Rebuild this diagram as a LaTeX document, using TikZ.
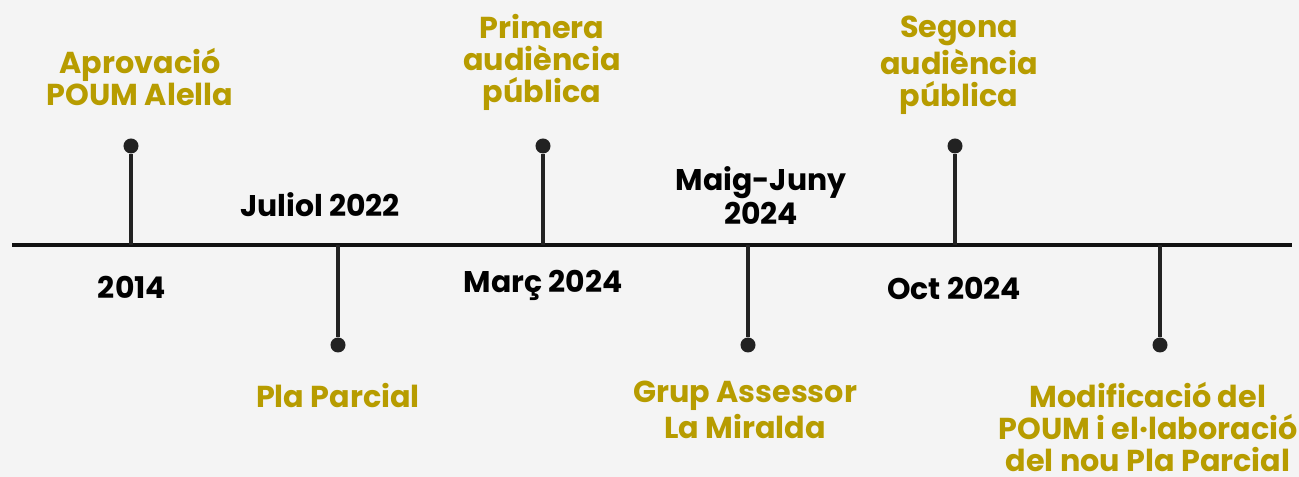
\documentclass[tikz,border=0pt]{standalone}
\usepackage{fontspec}
\setmainfont{Poppins}
\usepackage{xcolor}
\definecolor{pagebg}{RGB}{244, 244, 244}
\definecolor{eventgold}{RGB}{183, 156, 0}
\definecolor{axisdark}{RGB}{17, 17, 17}
\definecolor{stemdark}{RGB}{34, 34, 34}
\usepackage{tikz}
\usetikzlibrary{
    positioning,
    calc
}
\tikzstyle{event} = [
    text=eventgold,
    align=center,
    inner sep=0pt,
    font=\fontsize{8.6}{9.1}\selectfont\bfseries
]
\tikzstyle{datelabel} = [
    text=black,
    align=center,
    inner sep=0pt,
    font=\fontsize{8.5}{8.6}\selectfont\bfseries
]
\tikzstyle{pin} = [
    circle,
    fill=stemdark,
    inner sep=0pt,
    minimum size=0.15cm
]
\tikzstyle{stem} = [
    draw=stemdark,
    line width=1.1pt
]
\tikzstyle{axis} = [
    draw=axisdark,
    line width=1.2pt
]

\begin{document}
\begin{tikzpicture}[
    x=0.01cm,
    y=-0.01cm
]
    % Background
    \fill[pagebg] (0,0) rectangle (1299,477);
    \useasboundingbox (0,0) rectangle (1299,477);

    % Axis
    \coordinate (axisstart) at (12,245);
    \coordinate (axisend) at (1292,245);
    \draw[axis] (axisstart) -- (axisend);

    % Stem bases on the axis
    \coordinate (base1) at (131,245);
    \coordinate (base2) at (338,245);
    \coordinate (base3) at (543,245);
    \coordinate (base4) at (748,245);
    \coordinate (base5) at (955,245);
    \coordinate (base6) at (1160,245);

    % Pins
    \node[pin] (pin1) at (131,146) {};
    \node[pin] (pin2) at (338,345) {};
    \node[pin] (pin3) at (543,146) {};
    \node[pin] (pin4) at (748,345) {};
    \node[pin] (pin5) at (955,146) {};
    \node[pin] (pin6) at (1160,345) {};

    % Stems
    \draw[stem] (base1) -- (pin1);
    \draw[stem] (base2) -- (pin2);
    \draw[stem] (base3) -- (pin3);
    \draw[stem] (base4) -- (pin4);
    \draw[stem] (base5) -- (pin5);
    \draw[stem] (base6) -- (pin6);

    % Events
    \node[event] (aprovacio) at (140,77) {Aprovació\\POUM Alella};
    \node[event] (plaparcial) at (338,396) {Pla Parcial};
    \node[event] (primera) at (542,62) {Primera\\audiència\\pública};
    \node[event] (grup) at (745,410) {Grup Assessor\\La Miralda};
    \node[event] (segona) at (959,65) {Segona\\audiència\\pública};
    \node[event] (modificacio) at (1148,427) {Modificació del\\POUM i el·laboració\\del nou Pla Parcial};

    % Dates
    \node[datelabel] (d2014) at (132,287) {2014};
    \node[datelabel] (d2022) at (320,205) {Juliol 2022};
    \node[datelabel] (dmarc) at (543,285) {Març 2024};
    \node[datelabel] (dmaig) at (761,196) {Maig-Juny\\2024};
    \node[datelabel] (doct) at (954,288) {Oct 2024};

\end{tikzpicture}
\end{document}
